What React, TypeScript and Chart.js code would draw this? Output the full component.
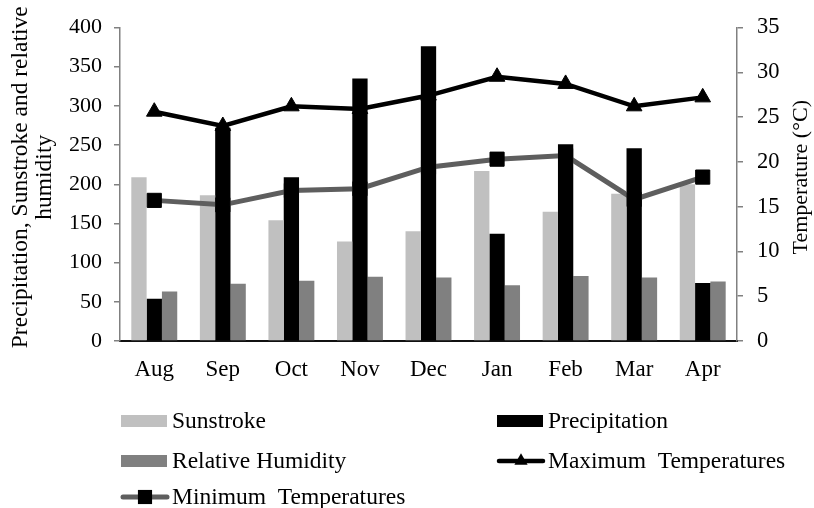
import React, { useEffect, useRef } from "react";
import { Chart, registerables } from "chart.js";

Chart.register(...registerables);

const months = ["Aug", "Sep", "Oct", "Nov", "Dec", "Jan", "Feb", "Mar", "Apr"];
const sunstroke = [209, 186, 154, 127, 140, 217, 165, 188, 200];
const precipitation = [54, 272, 209, 335, 376, 137, 251, 246, 74];
const relativeHumidity = [63, 73, 77, 82, 81, 71, 83, 81, 76];
const maxTemperatures = [25.6, 24.0, 26.2, 25.9, 27.4, 29.5, 28.7, 26.2, 27.2];
const minTemperatures = [15.7, 15.2, 16.8, 17.0, 19.4, 20.3, 20.7, 15.8, 18.3];
const leftTitleLines = ["Precipitation, Sunstroke and relative", "humidity"];
const rightTitle = "Temperature (°C)";

const FONT = "'Liberation Serif', 'Times New Roman', serif";

const axisTitlePlugin = {
  id: "axisTitles",
  afterDraw(chart: any) {
    const ctx = chart.ctx;
    const { top, bottom } = chart.chartArea;
    const cy = (top + bottom) / 2 - 7;
    ctx.save();
    ctx.fillStyle = "#000";
    ctx.textAlign = "center";
    ctx.textBaseline = "middle";
    ctx.font = `23.5px ${FONT}`;
    const xs = [21, 45];
    leftTitleLines.forEach((line, i) => {
      ctx.save();
      ctx.translate(xs[i], cy);
      ctx.rotate(-Math.PI / 2);
      ctx.fillText(line, 0, 0);
      ctx.restore();
    });
    ctx.font = `22px ${FONT}`;
    ctx.save();
    ctx.translate(801, cy);
    ctx.rotate(-Math.PI / 2);
    ctx.fillText(rightTitle, 0, 0);
    ctx.restore();
    ctx.restore();
  },
};

const legendPlugin = {
  id: "customLegend",
  afterDraw(chart: any) {
    const ctx = chart.ctx;
    const ds = chart.data.datasets;
    const cols = [121, 497];
    const rows = [421, 461, 497];
    const order = [0, 1, 2, 3, 4];
    ctx.save();
    ctx.font = `23.5px ${FONT}`;
    ctx.textAlign = "left";
    ctx.textBaseline = "middle";
    order.forEach((di, i) => {
      const d = ds[di];
      const x = cols[i % 2];
      const y = rows[Math.floor(i / 2)];
      const w = 48;
      if (d.type === "line") {
        ctx.strokeStyle = d.borderColor;
        ctx.lineWidth = d.borderWidth;
        ctx.lineCap = "round";
        ctx.beginPath();
        ctx.moveTo(x + 2, y);
        ctx.lineTo(x + w - 2, y);
        ctx.stroke();
        ctx.fillStyle = d.pointBackgroundColor;
        ctx.beginPath();
        const cx = x + w / 2;
        if (d.pointStyle === "triangle") {
          const r = d.pointRadius * 0.85;
          ctx.moveTo(cx, y - r);
          ctx.lineTo(cx + r * 0.866, y + r * 0.5);
          ctx.lineTo(cx - r * 0.866, y + r * 0.5);
          ctx.closePath();
        } else {
          const s = d.pointRadius * Math.SQRT1_2;
          ctx.rect(cx - s, y - s, 2 * s, 2 * s);
        }
        ctx.fill();
      } else {
        ctx.fillStyle = d.backgroundColor;
        ctx.fillRect(x, y - 6, w - 2, 12);
      }
      ctx.fillStyle = "#000";
      ctx.fillText(d.label, x + w + 3, y + 1);
    });
    ctx.restore();
  },
};

export default function App() {
  const ref = useRef<HTMLCanvasElement | null>(null);

  useEffect(() => {
    if (!ref.current) return;
    const chart = new Chart(ref.current, {
      type: "bar",
      data: {
        labels: months,
        datasets: [
          {
            type: "bar",
            label: "Sunstroke",
            data: sunstroke,
            backgroundColor: "#c0c0c0",
            yAxisID: "y",
            order: 2,
          },
          {
            type: "bar",
            label: "Precipitation",
            data: precipitation,
            backgroundColor: "#000000",
            yAxisID: "y",
            order: 2,
          },
          {
            type: "bar",
            label: "Relative Humidity",
            data: relativeHumidity,
            backgroundColor: "#808080",
            yAxisID: "y",
            order: 2,
          },
          {
            type: "line",
            label: "Maximum  Temperatures",
            data: maxTemperatures,
            borderColor: "#000000",
            borderWidth: 4.5,
            pointStyle: "triangle",
            pointRadius: 9,
            pointBackgroundColor: "#000000",
            pointBorderColor: "#000000",
            pointBorderWidth: 1,
            yAxisID: "y1",
            order: 1,
          },
          {
            type: "line",
            label: "Minimum  Temperatures",
            data: minTemperatures,
            borderColor: "#5e5e5e",
            borderWidth: 5,
            pointStyle: "rect",
            pointRadius: 10,
            pointBackgroundColor: "#000000",
            pointBorderColor: "#000000",
            pointBorderWidth: 1,
            yAxisID: "y1",
            order: 0,
          },
        ] as any,
      },
      options: {
        animation: false,
        responsive: true,
        maintainAspectRatio: false,
        layout: { padding: { top: 27, bottom: 120, left: 0, right: 0 } },
        plugins: {
          legend: { display: false },
          tooltip: { enabled: false },
        },
        datasets: {
          bar: { categoryPercentage: 0.67, barPercentage: 1.0 },
        },
        scales: {
          x: {
            grid: { display: false, drawTicks: false },
            border: { display: true, color: "#111111", width: 2 },
            ticks: {
              color: "#000",
              font: { family: FONT, size: 23 },
              padding: 15,
            },
            afterFit(scale: any) {
              scale.height = 47;
            },
          },
          y: {
            position: "left",
            min: 0,
            max: 400,
            ticks: {
              stepSize: 50,
              color: "#000",
              font: { family: FONT, size: 22 },
              padding: 12,
            },
            grid: {
              drawOnChartArea: false,
              drawTicks: true,
              tickLength: 6,
              color: "#808080",
              lineWidth: 1.5,
            },
            border: { display: true, color: "#808080", width: 1.5 },
            afterFit(scale: any) {
              scale.width = 120;
            },
          },
          y1: {
            position: "right",
            min: 0,
            max: 35,
            ticks: {
              stepSize: 5,
              color: "#000",
              font: { family: FONT, size: 22.5 },
              padding: 14,
            },
            grid: {
              drawOnChartArea: false,
              drawTicks: true,
              tickLength: 6,
              color: "#808080",
              lineWidth: 1.5,
            },
            border: { display: true, color: "#808080", width: 1.5 },
            afterFit(scale: any) {
              scale.width = 77;
            },
          },
        },
      } as any,
      plugins: [axisTitlePlugin, legendPlugin],
    });
    return () => chart.destroy();
  }, []);

  return (
    <div style={{ position: "fixed", left: 0, top: 0, width: 814, height: 508, background: "#fff" }}>
      <canvas ref={ref} />
    </div>
  );
}
